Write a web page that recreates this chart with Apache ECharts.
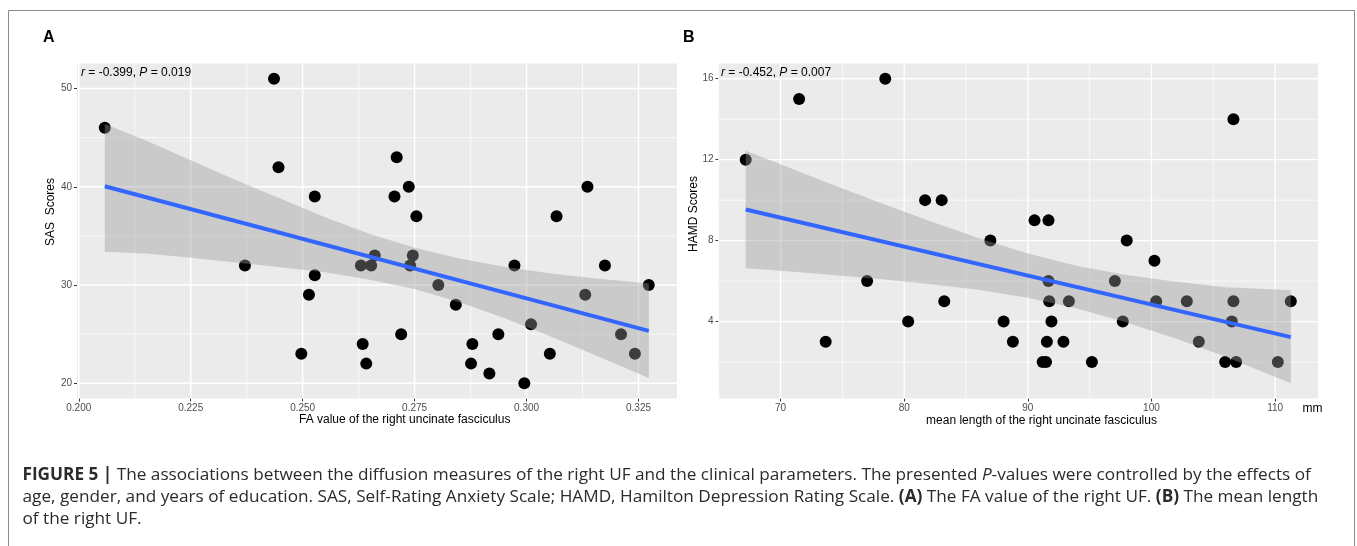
<!DOCTYPE html>
<html>
<head>
<meta charset="utf-8">
<script src="https://cdn.jsdelivr.net/npm/echarts@6.0.0/dist/echarts.min.js"></script>
<style>
html,body{margin:0;padding:0;background:#fff;}
#chart{width:1357px;height:546px;}
</style>
</head>
<body>
<div id="chart"></div>
<script>
// ---------- Panel A data: FA value vs SAS scores ----------
const faA = [0.2058,0.2436,0.2446,0.2527,0.2371,0.2527,0.2514,0.2497,0.2710,0.2737,0.2705,0.2754,0.2630,0.2653,0.2661,0.2746,0.2740,0.2803,0.2842,0.2720,0.2634,0.2642,0.2879,0.2876,0.2917,0.2937,0.2973,0.3010,0.2995,0.3052,0.3067,0.3136,0.3131,0.3175,0.3211,0.3242,0.3273];
const sasA = [46,51,42,39,32,31,29,23,43,40,39,37,32,32,33,33,32,30,28,25,24,22,24,22,21,25,32,26,20,23,37,40,29,32,25,23,30];
const fitAx = [0.2058,0.3273];
const fitAy = [40.06,25.34];
const bandAx = [0.2058,0.215,0.225,0.235,0.245,0.255,0.265,0.275,0.285,0.295,0.305,0.315,0.3273];
const bandAlo = [33.4,33.2,32.77,32.3,31.8,31.3,30.55,29.6,28.26,26.65,24.85,22.94,20.53];
const bandAhi = [46.4,44.7,42.7,40.7,38.8,36.9,35.2,33.8,32.7,31.85,31.2,30.7,30.15];
const xTicksA = [0.200,0.225,0.250,0.275,0.300,0.325];
const xMinorA = [0.2125,0.2375,0.2625,0.2875,0.3125];
const yTicksA = [20,30,40,50];
const yMinorA = [25,35,45];

// ---------- Panel B data: mean length vs HAMD scores ----------
const lenB = [67.18,71.5,78.47,73.65,77.0,81.69,83.03,86.97,83.24,80.32,88.04,88.79,106.63,90.54,91.67,98.0,100.24,97.04,91.67,91.73,93.32,100.38,102.86,106.63,111.27,91.91,97.68,106.5,91.54,92.88,103.83,91.2,91.47,95.18,105.96,106.85,110.22];
const hamdB = [12,15,16,3,6,10,10,8,5,4,4,3,14,9,9,8,7,6,6,5,5,5,5,5,5,4,4,4,3,3,3,2,2,2,2,2,2];
const fitBx = [67.18,111.27];
const fitBy = [9.54,3.23];
const bandBx = [67.18,70,74,78,82,86,90,94,98,102,106,111.27];
const bandBlo = [6.64,6.51,6.31,6.10,5.86,5.57,5.18,4.65,3.96,3.15,2.26,0.95];
const bandBhi = [12.44,11.77,10.81,9.88,8.98,8.13,7.36,6.75,6.30,5.97,5.70,5.55];
const xTicksB = [70,80,90,100,110];
const xMinorB = [65,75,85,95,105];
const yTicksB = [4,8,12,16];
const yMinorB = [2,6,10,14];

// ---------- texts ----------
const titleA = 'A', titleB = 'B';
const annotA = '{i|r} = -0.399, {i|P} = 0.019';
const annotB = '{i|r} = -0.452, {i|P} = 0.007';
const xNameA = 'FA value of the right uncinate fasciculus';
const yNameA = 'SAS  Scores';
const xNameB = 'mean length of the right uncinate fasciculus';
const yNameB = 'HAMD Scores';
const unitB = 'mm';
const caption = [
  '{b|FIGURE 5 |} The associations between the diffusion measures of the right UF and the clinical parameters. The presented {i|P}-values were controlled by the effects of',
  'age, gender, and years of education. SAS, Self-Rating Anxiety Scale; HAMD, Hamilton Depression Rating Scale. {b|(A)} The FA value of the right UF. {b|(B)} The mean length',
  'of the right UF.'
];

const FONT = "'Liberation Sans', Arial, Helvetica, sans-serif";
const CAPFONT = "'Open Sans', 'Liberation Sans', Arial, sans-serif";
const CAPSIZE = 17.2;
const chart = echarts.init(document.getElementById('chart'), null, {renderer: 'canvas'});

function zip(a, b) { return a.map((v, i) => [v, b[i]]); }

function xAxisDef(idx, min, max, ticks, fmt) {
  return {
    gridIndex: idx, type: 'value', min: min, max: max,
    axisLine: {show: false}, splitLine: {show: false}, minorSplitLine: {show: false},
    axisTick: {show: true, customValues: ticks, length: 3, lineStyle: {color: '#333333', width: 1}},
    axisLabel: {customValues: ticks, formatter: fmt, color: '#4D4D4D', fontSize: 10, fontFamily: FONT, margin: 5, hideOverlap: false}
  };
}
function yAxisDef(idx, min, max, ticks) {
  return {
    gridIndex: idx, type: 'value', min: min, max: max,
    axisLine: {show: false}, splitLine: {show: false}, minorSplitLine: {show: false},
    axisTick: {show: true, customValues: ticks, length: 3, lineStyle: {color: '#333333', width: 1}},
    axisLabel: {customValues: ticks, color: '#4D4D4D', fontSize: 10, fontFamily: FONT, margin: 5, hideOverlap: false}
  };
}

function gridLines(idx, xMaj, xMin, yMaj, yMin) {
  return {
    type: 'custom', xAxisIndex: idx, yAxisIndex: idx, silent: true, z: 1,
    data: [[xMaj[0], yMaj[0]]],
    renderItem: function (params, api) {
      const cs = params.coordSys;
      const kids = [];
      const addV = (v, w) => { const p = api.coord([v, yMaj[0]]); kids.push({type: 'line', shape: {x1: p[0], y1: cs.y, x2: p[0], y2: cs.y + cs.height}, style: {stroke: '#FFFFFF', lineWidth: w}}); };
      const addH = (v, w) => { const p = api.coord([xMaj[0], v]); kids.push({type: 'line', shape: {x1: cs.x, y1: p[1], x2: cs.x + cs.width, y2: p[1]}, style: {stroke: '#FFFFFF', lineWidth: w}}); };
      xMin.forEach(v => addV(v, 0.7));
      yMin.forEach(v => addH(v, 0.7));
      xMaj.forEach(v => addV(v, 1.4));
      yMaj.forEach(v => addH(v, 1.4));
      return {type: 'group', children: kids};
    }
  };
}

function band(idx, xs, lo, hi) {
  return {
    type: 'custom', xAxisIndex: idx, yAxisIndex: idx, silent: true, z: 4,
    data: xs.map((x, i) => [x, lo[i], hi[i]]),
    renderItem: function (params, api) {
      if (params.dataIndex !== 0) return null;
      const pts = [];
      for (let i = 0; i < xs.length; i++) pts.push(api.coord([xs[i], hi[i]]));
      for (let i = xs.length - 1; i >= 0; i--) pts.push(api.coord([xs[i], lo[i]]));
      return {type: 'polygon', shape: {points: pts}, style: {fill: 'rgba(153,153,153,0.4)'}};
    }
  };
}

function points(idx, xs, ys) {
  return {type: 'scatter', xAxisIndex: idx, yAxisIndex: idx, data: zip(xs, ys), symbolSize: 12, itemStyle: {color: '#000000', opacity: 1}, z: 3, silent: true};
}
function fit(idx, xs, ys) {
  return {type: 'line', xAxisIndex: idx, yAxisIndex: idx, data: zip(xs, ys), showSymbol: false, symbol: 'none', lineStyle: {color: '#3366FF', width: 4}, z: 5, silent: true};
}

function txt(x, y, text, opts) {
  return Object.assign({type: 'text', x: x, y: y, silent: true, z: 100,
    style: Object.assign({text: text, fill: '#000', fontFamily: FONT, fontSize: 12, align: 'left', verticalAlign: 'middle'}, opts || {})});
}
const richAnnot = {i: {fontStyle: 'italic', fontSize: 12, fontFamily: FONT, fill: '#000'}};
const capRich = {
  b: {fontWeight: 'bold', fontSize: CAPSIZE, fontFamily: CAPFONT, fill: '#2b2b2b'},
  i: {fontStyle: 'italic', fontSize: CAPSIZE, fontFamily: CAPFONT, fill: '#2b2b2b'}
};

const option = {
  animation: false,
  backgroundColor: '#ffffff',
  grid: [
    {left: 77, top: 63.5, width: 600, height: 335, show: true, backgroundColor: '#EBEBEB', borderWidth: 0, outerBoundsMode: 'none'},
    {left: 718.5, top: 63.5, width: 599.5, height: 335, show: true, backgroundColor: '#EBEBEB', borderWidth: 0, outerBoundsMode: 'none'}
  ],
  xAxis: [
    xAxisDef(0, 0.1996, 0.3336, xTicksA, v => v.toFixed(3)),
    xAxisDef(1, 64.98, 113.47, xTicksB, v => String(Math.round(v)))
  ],
  yAxis: [
    yAxisDef(0, 18.45, 52.55, yTicksA),
    yAxisDef(1, 0.2, 16.75, yTicksB)
  ],
  series: [
    gridLines(0, xTicksA, xMinorA, yTicksA, yMinorA),
    gridLines(1, xTicksB, xMinorB, yTicksB, yMinorB),
    points(0, faA, sasA),
    points(1, lenB, hamdB),
    band(0, bandAx, bandAlo, bandAhi),
    band(1, bandBx, bandBlo, bandBhi),
    fit(0, fitAx, fitAy),
    fit(1, fitBx, fitBy)
  ],
  graphic: [
    {type: 'rect', silent: true, z: -10, shape: {x: 8.5, y: 10.5, width: 1346, height: 600}, style: {fill: 'none', stroke: '#8a8a8a', lineWidth: 1}},
    txt(43, 38, titleA, {fontWeight: 'bold', fontSize: 16}),
    txt(683, 38, titleB, {fontWeight: 'bold', fontSize: 16}),
    txt(81, 72.5, annotA, {fontSize: 12, rich: richAnnot}),
    txt(721, 72.5, annotB, {fontSize: 12, rich: richAnnot}),
    txt(404.7, 420, xNameA, {align: 'center'}),
    txt(1041.5, 420.5, xNameB, {align: 'center'}),
    txt(1302.5, 408.3, unitB, {}),
    Object.assign(txt(50.7, 212, yNameA, {align: 'center'}), {rotation: Math.PI / 2}),
    Object.assign(txt(693.3, 214, yNameB, {align: 'center'}), {rotation: Math.PI / 2}),
    txt(22.5, 475.5, caption[0], {fontSize: CAPSIZE, fontFamily: CAPFONT, fill: '#2b2b2b', rich: capRich}),
    txt(22.5, 497.5, caption[1], {fontSize: CAPSIZE, fontFamily: CAPFONT, fill: '#2b2b2b', rich: capRich}),
    txt(22.5, 519.5, caption[2], {fontSize: CAPSIZE, fontFamily: CAPFONT, fill: '#2b2b2b', rich: capRich})
  ]
};
chart.setOption(option);
</script>
</body>
</html>
